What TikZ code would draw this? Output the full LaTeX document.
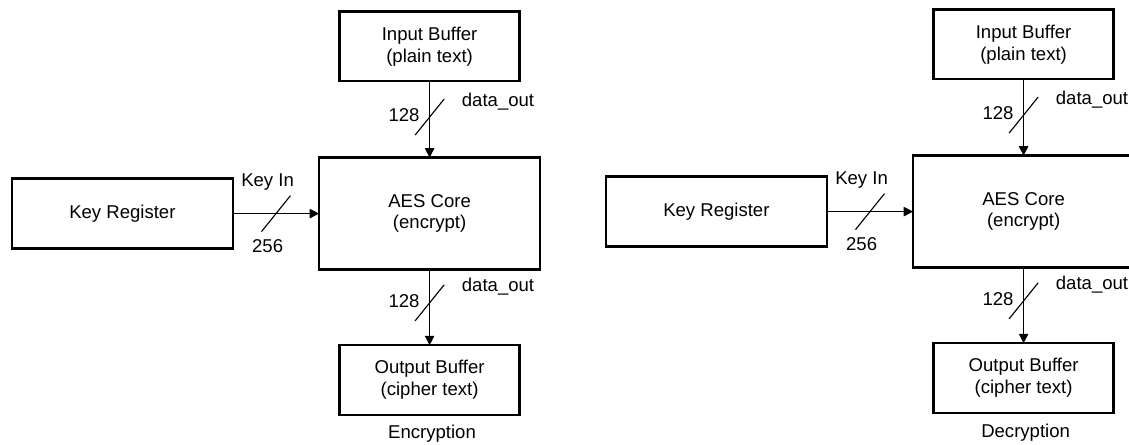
\documentclass[tikz,border=0pt]{standalone}
\usepackage{fontspec}
\setmainfont{Liberation Sans}
\usepackage{tikz}
\usetikzlibrary{arrows.meta,calc}

\begin{document}
\begin{tikzpicture}[x=1cm,y=1cm,>={Triangle[length=0.235cm,width=0.235cm]},font=\fontsize{13.2}{15.4}\selectfont]
\tikzset{blk/.style={draw=black,line width=1.6pt,fill=white,inner sep=0pt,outer sep=0pt,align=center},
  buf/.style={blk,minimum width=4.5cm,minimum height=1.74cm},
  core/.style={blk,minimum width=5.525cm,minimum height=2.8cm},
  arr/.style={->,line width=0.8pt},bus/.style={line width=0.8pt},lbl/.style={inner sep=0pt,anchor=base}}
\useasboundingbox (0,0) rectangle (28.225,11.1);
% encryption
\node[blk,minimum width=5.525cm,minimum height=1.75cm] (keyE) at (3.06,5.76) {Key Register};
\node[core] (aesE) at (10.74,5.76) {AES Core\\(encrypt)};
\node[buf] (inE) at (10.74,9.94) {Input Buffer\\(plain text)};
\node[buf] (outE) at (10.74,1.6) {Output Buffer\\(cipher text)};
\draw[arr] (inE)--coordinate[pos=0.47] (sE1) (aesE);
\draw[arr] (aesE)--coordinate[pos=0.44] (sE2) (outE);
\draw[arr] (keyE)--coordinate[pos=0.5] (sE3) (aesE);
\draw[bus] (sE1) +(-0.3625,-0.45) -- +(0.3625,0.45);
\draw[bus] (sE2) +(-0.3625,-0.45) -- +(0.3625,0.45);
\draw[bus] (sE3) +(-0.3625,-0.45) -- +(0.3625,0.45);
\node[lbl] (wE1) at ($(sE1)+(-0.64,-0.12)$) {128};
\node[lbl] (nE1) at ($(sE1)+(1.71,0.275)$) {data\_out};
\node[lbl] (wE2) at ($(sE2)+(-0.64,-0.12)$) {128};
\node[lbl] (nE2) at ($(sE2)+(1.71,0.275)$) {data\_out};
\node[lbl] (nE3) at ($(sE3)+(-0.21,0.69)$) {Key In};
\node[lbl] (wE3) at ($(sE3)+(-0.21,-0.96)$) {256};
\node[lbl] (capE) at (10.8,0.14) {Encryption};
% decryption
\node[blk,minimum width=5.525cm,minimum height=1.75cm] (keyD) at (17.91,5.81) {Key Register};
\node[core] (aesD) at (25.59,5.81) {AES Core\\(encrypt)};
\node[buf] (inD) at (25.59,9.99) {Input Buffer\\(plain text)};
\node[buf] (outD) at (25.59,1.65) {Output Buffer\\(cipher text)};
\draw[arr] (inD)--coordinate[pos=0.47] (sD1) (aesD);
\draw[arr] (aesD)--coordinate[pos=0.44] (sD2) (outD);
\draw[arr] (keyD)--coordinate[pos=0.5] (sD3) (aesD);
\draw[bus] (sD1) +(-0.3625,-0.45) -- +(0.3625,0.45);
\draw[bus] (sD2) +(-0.3625,-0.45) -- +(0.3625,0.45);
\draw[bus] (sD3) +(-0.3625,-0.45) -- +(0.3625,0.45);
\node[lbl] (wD1) at ($(sD1)+(-0.64,-0.12)$) {128};
\node[lbl] (nD1) at ($(sD1)+(1.71,0.275)$) {data\_out};
\node[lbl] (wD2) at ($(sD2)+(-0.64,-0.12)$) {128};
\node[lbl] (nD2) at ($(sD2)+(1.71,0.275)$) {data\_out};
\node[lbl] (nD3) at ($(sD3)+(-0.21,0.69)$) {Key In};
\node[lbl] (wD3) at ($(sD3)+(-0.21,-0.96)$) {256};
\node[lbl] (capD) at (25.64,0.17) {Decryption};
\end{tikzpicture}
\end{document}
